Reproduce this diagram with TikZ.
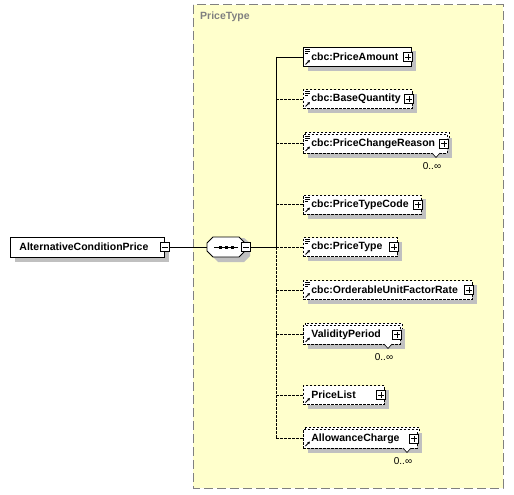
\documentclass[tikz,border=0pt]{standalone}
\usepackage{fontspec}
\setmainfont{Liberation Sans}
\usetikzlibrary{calc,arrows.meta}
\definecolor{groupfill}{RGB}{255,255,204}
\definecolor{groupline}{RGB}{128,128,128}
\definecolor{shadowc}{RGB}{192,192,192}
\tikzset{
  elembox/.style={draw=black, fill=white, line width=0.8pt, minimum height=19pt, inner xsep=8pt, inner ysep=0pt, align=left, font=\bfseries\fontsize{10.5}{12}\selectfont},
  optline/.style={dash pattern=on 2.5pt off 1.5pt},
  conn/.style={line width=0.8pt},
  pmbox/.style={draw=black, fill=white, line width=0.6pt, minimum size=9pt, inner sep=0pt},
  mult/.style={font=\fontsize{10}{11}\selectfont, inner sep=0pt},
}
\newcommand\iconlines[2]{% x,y top-left
  \draw[line width=0.6pt] (#1,#2) -- +(5,0) (#1,#2+2) -- +(5,0) (#1,#2+4) -- +(3,0);
}
\newcommand\iconarrow[2]{% x,y bottom-left
  \draw[line width=1pt,-{Latex[length=2.5pt,width=3pt]}] (#1,#2) -- (#1+4.5,#2-4.5);
}
\newcommand\plusbox[3]{% name, x, y
  \node[pmbox] (#1) at (#2,#3) {};
  \draw[line width=0.6pt] ($(#1.center)+(-3,0)$) -- ($(#1.center)+(3,0)$) ($(#1.center)+(0,-3)$) -- ($(#1.center)+(0,3)$);
}
\newcommand\elem[6]{% #1 name, #2 right x, #3 center y, #4 border style, #5 text, #6 cbc icon 1/0
  \pgfmathsetmacro\ewd{#2-303}
  \pgfmathsetmacro\etw{#2-303-16}
  \fill[shadowc] (308,#3-5.5) rectangle (#2+5,#3+14);
  \node[elembox,#4,minimum width=\ewd pt,text width=\etw pt,anchor=west] (#1) at (303,#3) {#5};
  \ifnum#6=1 \iconlines{305}{#3-7.5}\fi
  \iconarrow{305.5}{#3+7.5}
  \plusbox{#1p}{#2-3}{#3}
}
\newcommand\notch[3]{% name, x, bottom y
  \draw[line width=0.6pt, fill=white] (#2-4,#3) -- (#2,#3+4.5) -- (#2+4,#3) ;
  \coordinate (#1) at (#2,#3+13);
}
\begin{document}
\begin{tikzpicture}[x=1pt,y=-1pt]
\useasboundingbox (0,0) rectangle (514,495);
% group
\draw[groupline, fill=groupfill, line width=1pt, dash pattern=on 9pt off 4pt] (193,5) rectangle (503,488);
\node[anchor=west, text=groupline, font=\bfseries\fontsize{10.5}{12}\selectfont, inner sep=0pt] (grp) at (200,17) {PriceType};
% root
\fill[shadowc] (15,242) rectangle (169,262);
\node[draw=black, fill=white, line width=0.8pt, minimum width=154pt, minimum height=20pt, inner sep=0pt, anchor=west, font=\bfseries\fontsize{10.5}{12}\selectfont] (root) at (10,247) {AlternativeConditionPrice\hspace*{7pt}};
\node[pmbox] (rootm) at (164.5,247) {};
\draw[line width=0.6pt] ($(rootm.center)+(-3,0)$) -- ($(rootm.center)+(3,0)$);
% sequence
\fill[shadowc] (212,243) -- (218,238) -- (244,238) -- (250,243) -- (250,256) -- (244,262) -- (218,262) -- (212,256) -- cycle;
\draw[line width=0.8pt, fill=white] (207,243) -- (213,237) -- (239,237) -- (245,243) -- (245,251) -- (239,257) -- (213,257) -- (207,251) -- cycle;
\coordinate (seqin) at (207,247);
\draw[line width=0.8pt] (214,247) -- (238,247);
\foreach \xx in {220,226,232} \fill (\xx-1.5,245.5) rectangle (\xx+1.5,248.5);
\node[pmbox] (seqm) at (246,247) {};
\draw[line width=0.6pt] ($(seqm.center)+(-3,0)$) -- ($(seqm.center)+(3,0)$);
\coordinate (trunktop) at (276,57);
\coordinate (trunkmid) at (276,247);
\coordinate (trunkbot) at (276,438);
\draw[conn] (rootm.east) -- (seqin);
\draw[conn] (seqm.east) -- (trunkmid);
% elements
\elem{e1}{411}{57}{solid}{cbc:PriceAmount}{1}
\elem{e2}{412}{99}{optline}{cbc:BaseQuantity}{1}
% repeating PriceChangeReason
\fill[shadowc] (308,139) rectangle (452,158);
\draw[line width=0.8pt, optline, fill=white] (305,132) rectangle (449,151);
\elem{e3}{447}{143.5}{optline}{cbc:PriceChangeReason}{1}
\notch{m3}{436}{153}
\node[mult] at ($(m3)+(-4,0)$) {0..∞};
\elem{e4}{421}{204.5}{optline}{cbc:PriceTypeCode}{1}
\elem{e5}{397}{247}{optline}{cbc:PriceType}{1}
\elem{e6}{472}{290}{optline}{cbc:OrderableUnitFactorRate}{1}
% ValidityPeriod
\fill[shadowc] (308,330) rectangle (405,349);
\draw[line width=0.8pt, optline, fill=white] (305,323) rectangle (402,342);
\elem{e7}{400}{334.5}{optline}{ValidityPeriod}{0}
\notch{m7}{388}{344}
\node[mult] at ($(m7)+(-4,0)$) {0..∞};
\elem{e8}{384}{395}{optline}{PriceList}{0}
% AllowanceCharge
\fill[shadowc] (308,434) rectangle (422,453);
\draw[line width=0.8pt, optline, fill=white] (305,427) rectangle (419,446);
\elem{e9}{417}{438.5}{optline}{AllowanceCharge}{0}
\notch{m9}{407}{448}
\node[mult] at ($(m9)+(-4,0)$) {0..∞};
% trunk
\draw[conn] (trunktop) -- (trunkmid);
\draw[conn, optline] (trunkmid) -- (trunkbot);
\draw[conn] (trunktop) -- (e1.west);
\foreach \n in {e2,e3,e4,e5,e6,e7,e8,e9} \draw[conn, optline] (trunkmid |- \n.west) -- (\n.west);
\end{tikzpicture}
\end{document}
